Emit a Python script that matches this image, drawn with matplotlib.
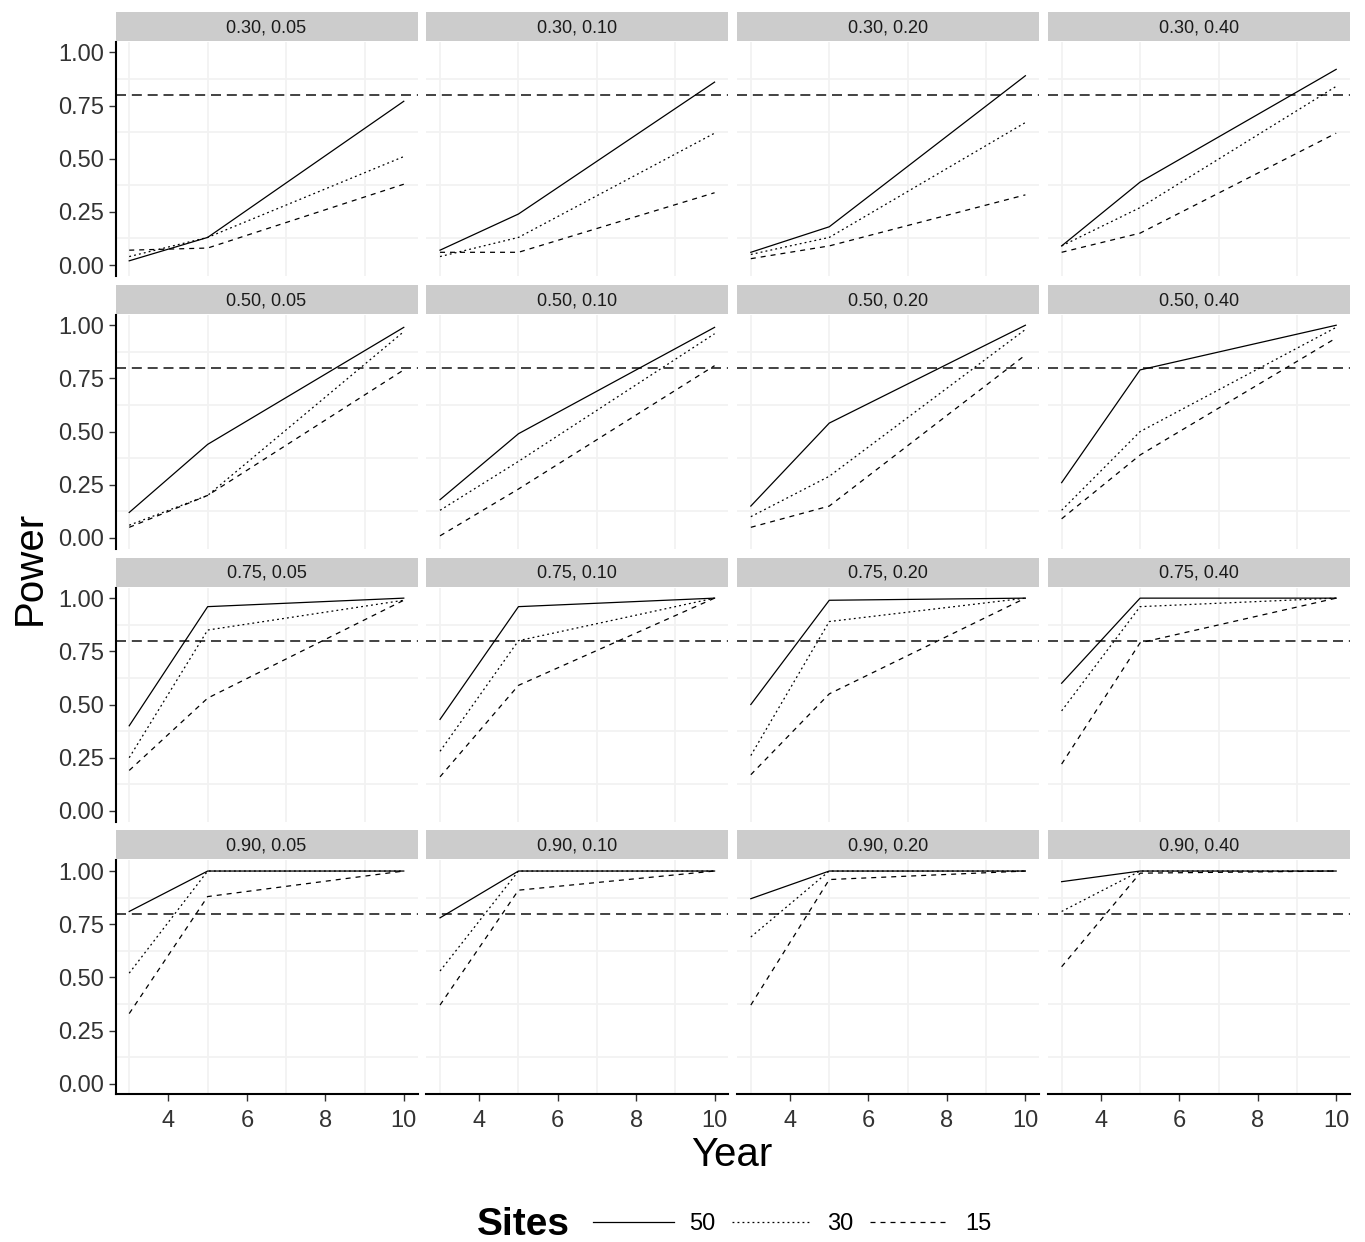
import matplotlib
matplotlib.use("Agg")
import matplotlib.pyplot as plt
from matplotlib.lines import Line2D

plt.rcParams["font.family"] = ["Liberation Sans", "DejaVu Sans"]

# ── data ─────────────────────────────────────────────────────────────────────
years = [3, 5, 10]
row_labels = ["0.30", "0.50", "0.75", "0.90"]
col_labels = ["0.05", "0.10", "0.20", "0.40"]
target = 0.8

# power[row][col] = values at years 3, 5, 10
power_50 = [
    [[0.02, 0.13, 0.77], [0.07, 0.24, 0.86], [0.06, 0.18, 0.89], [0.09, 0.39, 0.92]],
    [[0.12, 0.44, 0.99], [0.18, 0.49, 0.99], [0.15, 0.54, 1.00], [0.26, 0.79, 1.00]],
    [[0.40, 0.96, 1.00], [0.43, 0.96, 1.00], [0.50, 0.99, 1.00], [0.60, 1.00, 1.00]],
    [[0.81, 1.00, 1.00], [0.78, 1.00, 1.00], [0.87, 1.00, 1.00], [0.95, 1.00, 1.00]],
]
power_30 = [
    [[0.04, 0.13, 0.51], [0.04, 0.13, 0.62], [0.05, 0.13, 0.67], [0.09, 0.27, 0.84]],
    [[0.06, 0.20, 0.97], [0.13, 0.36, 0.96], [0.10, 0.29, 0.98], [0.13, 0.50, 0.99]],
    [[0.25, 0.85, 0.99], [0.28, 0.80, 1.00], [0.26, 0.89, 1.00], [0.47, 0.96, 1.00]],
    [[0.52, 1.00, 1.00], [0.53, 1.00, 1.00], [0.69, 1.00, 1.00], [0.81, 1.00, 1.00]],
]
power_15 = [
    [[0.07, 0.08, 0.38], [0.06, 0.06, 0.34], [0.03, 0.09, 0.33], [0.06, 0.15, 0.62]],
    [[0.05, 0.20, 0.79], [0.01, 0.23, 0.81], [0.05, 0.15, 0.86], [0.09, 0.39, 0.94]],
    [[0.19, 0.53, 0.99], [0.16, 0.59, 1.00], [0.17, 0.55, 1.00], [0.22, 0.79, 1.00]],
    [[0.33, 0.88, 1.00], [0.37, 0.91, 1.00], [0.37, 0.96, 1.00], [0.55, 0.99, 1.00]],
]

sites = ["50", "30", "15"]
series = [power_50, power_30, power_15]
styles = ["-", (0, (1.5, 2.5)), (0, (4, 4))]

# ── layout (pixels) ──────────────────────────────────────────────────────────
W, H = 1365, 1242
fig = plt.figure(figsize=(W / 100, H / 100), dpi=100)


def px_axes(left, top, width, height):
    return fig.add_axes([left / W, 1 - (top + height) / H, width / W, height / H])


col_left0, col_pitch, panel_w = 115.5, 310.8, 302
row_top0, row_pitch, panel_h, strip_h = 41.7, 272.9, 234, 30

for i, rlab in enumerate(row_labels):
    for j, clab in enumerate(col_labels):
        left = col_left0 + col_pitch * j
        top = row_top0 + row_pitch * i
        ax = px_axes(left, top, panel_w, panel_h)

        for data, ls in zip(series, styles):
            ax.plot(years, data[i][j], color="black", lw=0.9, ls=ls, zorder=3)
        ax.axhline(target, color="#222222", lw=1.2, ls=(0, (6, 3.5)), zorder=2)

        ax.set_xlim(2.65, 10.35)
        ax.set_ylim(-0.05, 1.05)
        ax.set_xticks([4, 6, 8, 10])
        ax.set_xticks([3, 5, 7, 9], minor=True)
        ax.set_yticks([0, 0.25, 0.5, 0.75, 1.0])
        ax.set_yticks([0.125, 0.375, 0.625, 0.875], minor=True)
        ax.set_yticklabels(["0.00", "0.25", "0.50", "0.75", "1.00"])
        ax.grid(which="minor", color="#F2F2F2", lw=1.3)
        ax.set_axisbelow(True)
        ax.tick_params(which="minor", length=0)
        ax.tick_params(which="major", length=5, width=1, color="#333333",
                       labelsize=17, labelcolor="#333333")
        ax.tick_params(axis="x", pad=6)

        for s in ax.spines.values():
            s.set_visible(False)
        if j == 0:
            ax.spines["left"].set_visible(True)
            ax.spines["left"].set_linewidth(1.5)
        else:
            ax.tick_params(axis="y", left=False, labelleft=False)
        if i == len(row_labels) - 1:
            ax.spines["bottom"].set_visible(True)
            ax.spines["bottom"].set_linewidth(1.5)
        else:
            ax.tick_params(axis="x", bottom=False, labelbottom=False)

        sax = px_axes(left, top - strip_h, panel_w, strip_h - 1)
        sax.set_facecolor("#CCCCCC")
        sax.set_xticks([])
        sax.set_yticks([])
        for s in sax.spines.values():
            s.set_visible(False)
        sax.text(0.5, 0.45, f"{rlab}, {clab}", ha="center", va="center",
                 fontsize=13, color="#1A1A1A", transform=sax.transAxes)

fig.text(30 / W, 1 - 568 / H, "Power", rotation=90, ha="center", va="center",
         fontsize=29)
fig.text(732 / W, 1 - 1155 / H, "Year", ha="center", va="center", fontsize=29)

# legend
fig.text(570 / W, 1 - 1225 / H, "Sites", ha="right", va="center",
         fontsize=28, fontweight="bold")
handles = [Line2D([0], [0], color="black", lw=0.9, ls=ls) for ls in styles]
fig.legend(handles, sites, loc="center left", bbox_to_anchor=(572 / W, 1 - 1224 / H),
           ncol=3, frameon=False, fontsize=17, handlelength=3.4,
           handletextpad=0.65, columnspacing=0.7)

fig.savefig("out.png", dpi=100, facecolor="white")
